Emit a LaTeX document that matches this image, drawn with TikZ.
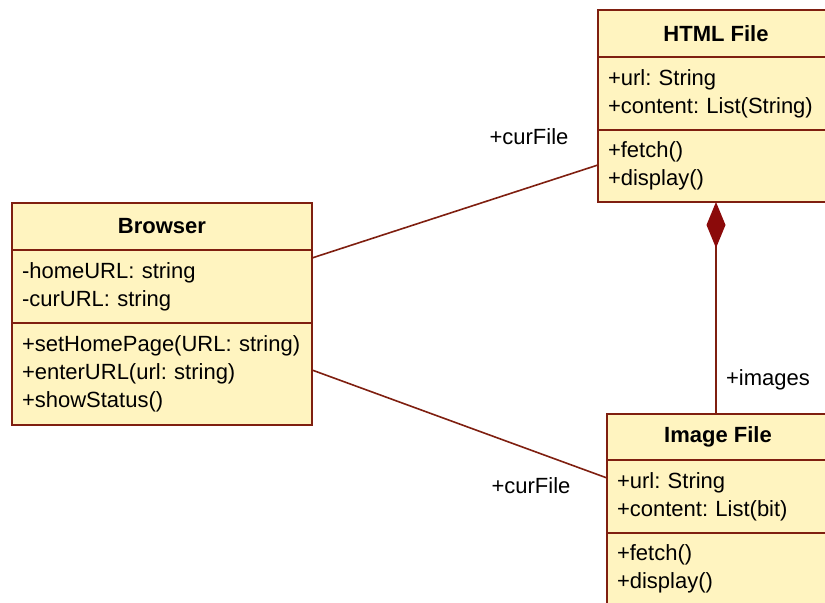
\documentclass[tikz,border=0pt]{standalone}
\usepackage{fontspec}
\setmainfont{Liberation Sans}
\usepackage{xcolor}
\usetikzlibrary{positioning,arrows.meta}
\frenchspacing

\definecolor{umlfill}{HTML}{FFF4C0}
\definecolor{umlline}{HTML}{7F1F10}
\definecolor{umldiamond}{HTML}{8B0A0A}

\begin{document}
\begin{tikzpicture}[x=0.5pt, y=-0.5pt]
    \tikzset{
        every node/.style={font=\fontsize{11}{14}\selectfont},
        classhead/.style={draw=umlline, fill=umlfill, line width=1pt, anchor=north, inner sep=0pt, outer sep=0pt,
            font=\fontsize{11}{14}\selectfont\bfseries},
        classpart/.style={draw=umlline, fill=umlfill, line width=1pt, align=left, inner xsep=5pt, inner ysep=0pt, outer sep=0pt},
        assoc/.style={draw=umlline, line width=0.8pt},
        role/.style={inner sep=0pt}
    }

    \clip (0,0) rectangle (825,603);
    \fill[white] (0,0) rectangle (825,603);

    % Browser
    \node[classhead, minimum width=150pt, minimum height=23.5pt] (bhead) at (162,203) {Browser};
    \node[classpart, below=0pt of bhead, text width=140pt, minimum height=36.5pt] (battr)
        {-homeURL: string\\-curURL: string};
    \node[classpart, below=0pt of battr, text width=140pt, minimum height=51pt] (bops)
        {+setHomePage(URL: string)\\+enterURL(url: string)\\+showStatus()};

    % HTML File
    \node[classhead, minimum width=118pt, minimum height=23.5pt] (hhead) at (716,10) {HTML File};
    \node[classpart, below=0pt of hhead, text width=108pt, minimum height=36.5pt] (hattr)
        {+url: String\\+content: List(String)};
    \node[classpart, below=0pt of hattr, text width=108pt, minimum height=36pt] (hops)
        {+fetch()\\+display()};

    % Image File
    \node[classhead, minimum width=111pt, minimum height=23pt] (ihead) at (718,414) {Image File};
    \node[classpart, below=0pt of ihead, text width=101pt, minimum height=36.5pt] (iattr)
        {+url: String\\+content: List(bit)};
    \node[classpart, below=0pt of iattr, text width=101pt, minimum height=36pt] (iops)
        {+fetch()\\+display()};

    % associations
    \draw[assoc] ([yshift=-4pt]battr.north east) -- ([yshift=-17.5pt]hops.north west);
    \draw[assoc] ([yshift=-23.5pt]bops.north east) -- ([yshift=-9pt]iattr.north west);
    \draw[assoc, {Diamond[length=23pt, width=9.5pt, color=umldiamond]}-] (hops.south) -- ([xshift=-1pt]ihead.north);

    \node[role] (curhtml) at (529,137) {+curFile};
    \node[role] (curimage) at (531,486) {+curFile};
    \node[role] (imgs) at (768,380) {+images};
\end{tikzpicture}
\end{document}
